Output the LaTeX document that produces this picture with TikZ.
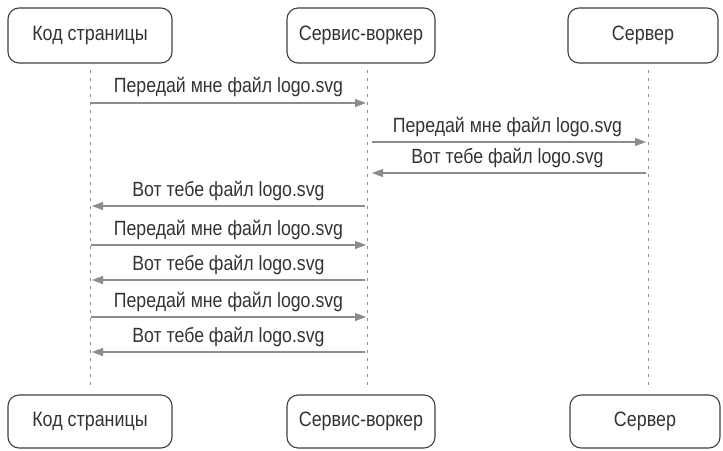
\documentclass[tikz,border=0pt]{standalone}
\usepackage{fontspec}
\setmainfont{Liberation Sans}[FakeStretch=0.86]
\usetikzlibrary{arrows.meta}
\definecolor{inkdark}{HTML}{333333}
\definecolor{boxline}{HTML}{404040}
\definecolor{msgline}{HTML}{8C8C8C}
\definecolor{lifeline}{HTML}{8E8E8E}
\begin{document}
\begin{tikzpicture}[x=1pt,y=-1pt,
  actor/.style={draw=boxline, line width=1.1pt, rounded corners=11pt,
    minimum height=55pt, inner sep=0pt, text=inkdark,
    font=\fontsize{20.8}{24}\selectfont},
  life/.style={draw=lifeline, line width=0.8pt, dash pattern=on 3pt off 5pt},
  msg/.style={draw=msgline, line width=1.2pt,
    -{Triangle[length=11pt,width=8pt]}},
  lbl/.style={text=inkdark, font=\fontsize{20.6}{24}\selectfont, inner sep=0pt}]
\useasboundingbox (0,0) rectangle (723,450);

% participants, top row
\node[actor, minimum width=164pt] (pt) at (90,35.5) {Код страницы};
\node[actor, minimum width=148pt] (st) at (361,35.5) {Сервис-воркер};
\node[actor, minimum width=150pt] (vt) at (643,35.5) {Сервер};
% participants, bottom row
\node[actor, minimum width=164pt, minimum height=53pt] (pb) at (90,421.5) {Код страницы};
\node[actor, minimum width=148pt, minimum height=53pt] (sb) at (361,421.5) {Сервис-воркер};
\node[actor, minimum width=150pt, minimum height=53pt] (vb) at (645,421.5) {Сервер};

% lifelines
\coordinate (pl1) at (90,70);   \coordinate (pl2) at (90,390);
\coordinate (sl1) at (367,70);  \coordinate (sl2) at (367,390);
\coordinate (vl1) at (648,70);  \coordinate (vl2) at (648,390);
\draw[life] (pl1) -- (pl2);
\draw[life] (sl1) -- (sl2);
\draw[life] (vl1) -- (vl2);

% message end points on the lifelines
\foreach \i/\y in {1/103,2/142,3/173,4/206,5/245,6/280,7/317,8/352}{
  \coordinate (p\i) at (90,\y);
  \coordinate (s\i) at (367,\y);
  \coordinate (v\i) at (648,\y);
}

% messages
\draw[msg, shorten <=1pt, shorten >=1pt] (p1) -- node[lbl, above=6pt] {Передай мне файл logo.svg} (s1);
\draw[msg, shorten <=5pt, shorten >=2pt] (s2) -- node[lbl, above=5pt] {Передай мне файл logo.svg} (v2);
\draw[msg, shorten <=2pt, shorten >=5pt] (v3) -- node[lbl, above=5pt] {Вот тебе файл logo.svg} (s3);
\draw[msg, shorten <=2pt, shorten >=2pt] (s4) -- node[lbl, above=5pt] {Вот тебе файл logo.svg} (p4);
\draw[msg, shorten <=1pt, shorten >=1pt] (p5) -- node[lbl, above=5pt] {Передай мне файл logo.svg} (s5);
\draw[msg, shorten <=2pt, shorten >=2pt] (s6) -- node[lbl, above=5pt] {Вот тебе файл logo.svg} (p6);
\draw[msg, shorten <=1pt, shorten >=1pt] (p7) -- node[lbl, above=5pt] {Передай мне файл logo.svg} (s7);
\draw[msg, shorten <=2pt, shorten >=2pt] (s8) -- node[lbl, above=5pt] {Вот тебе файл logo.svg} (p8);
\end{tikzpicture}
\end{document}
